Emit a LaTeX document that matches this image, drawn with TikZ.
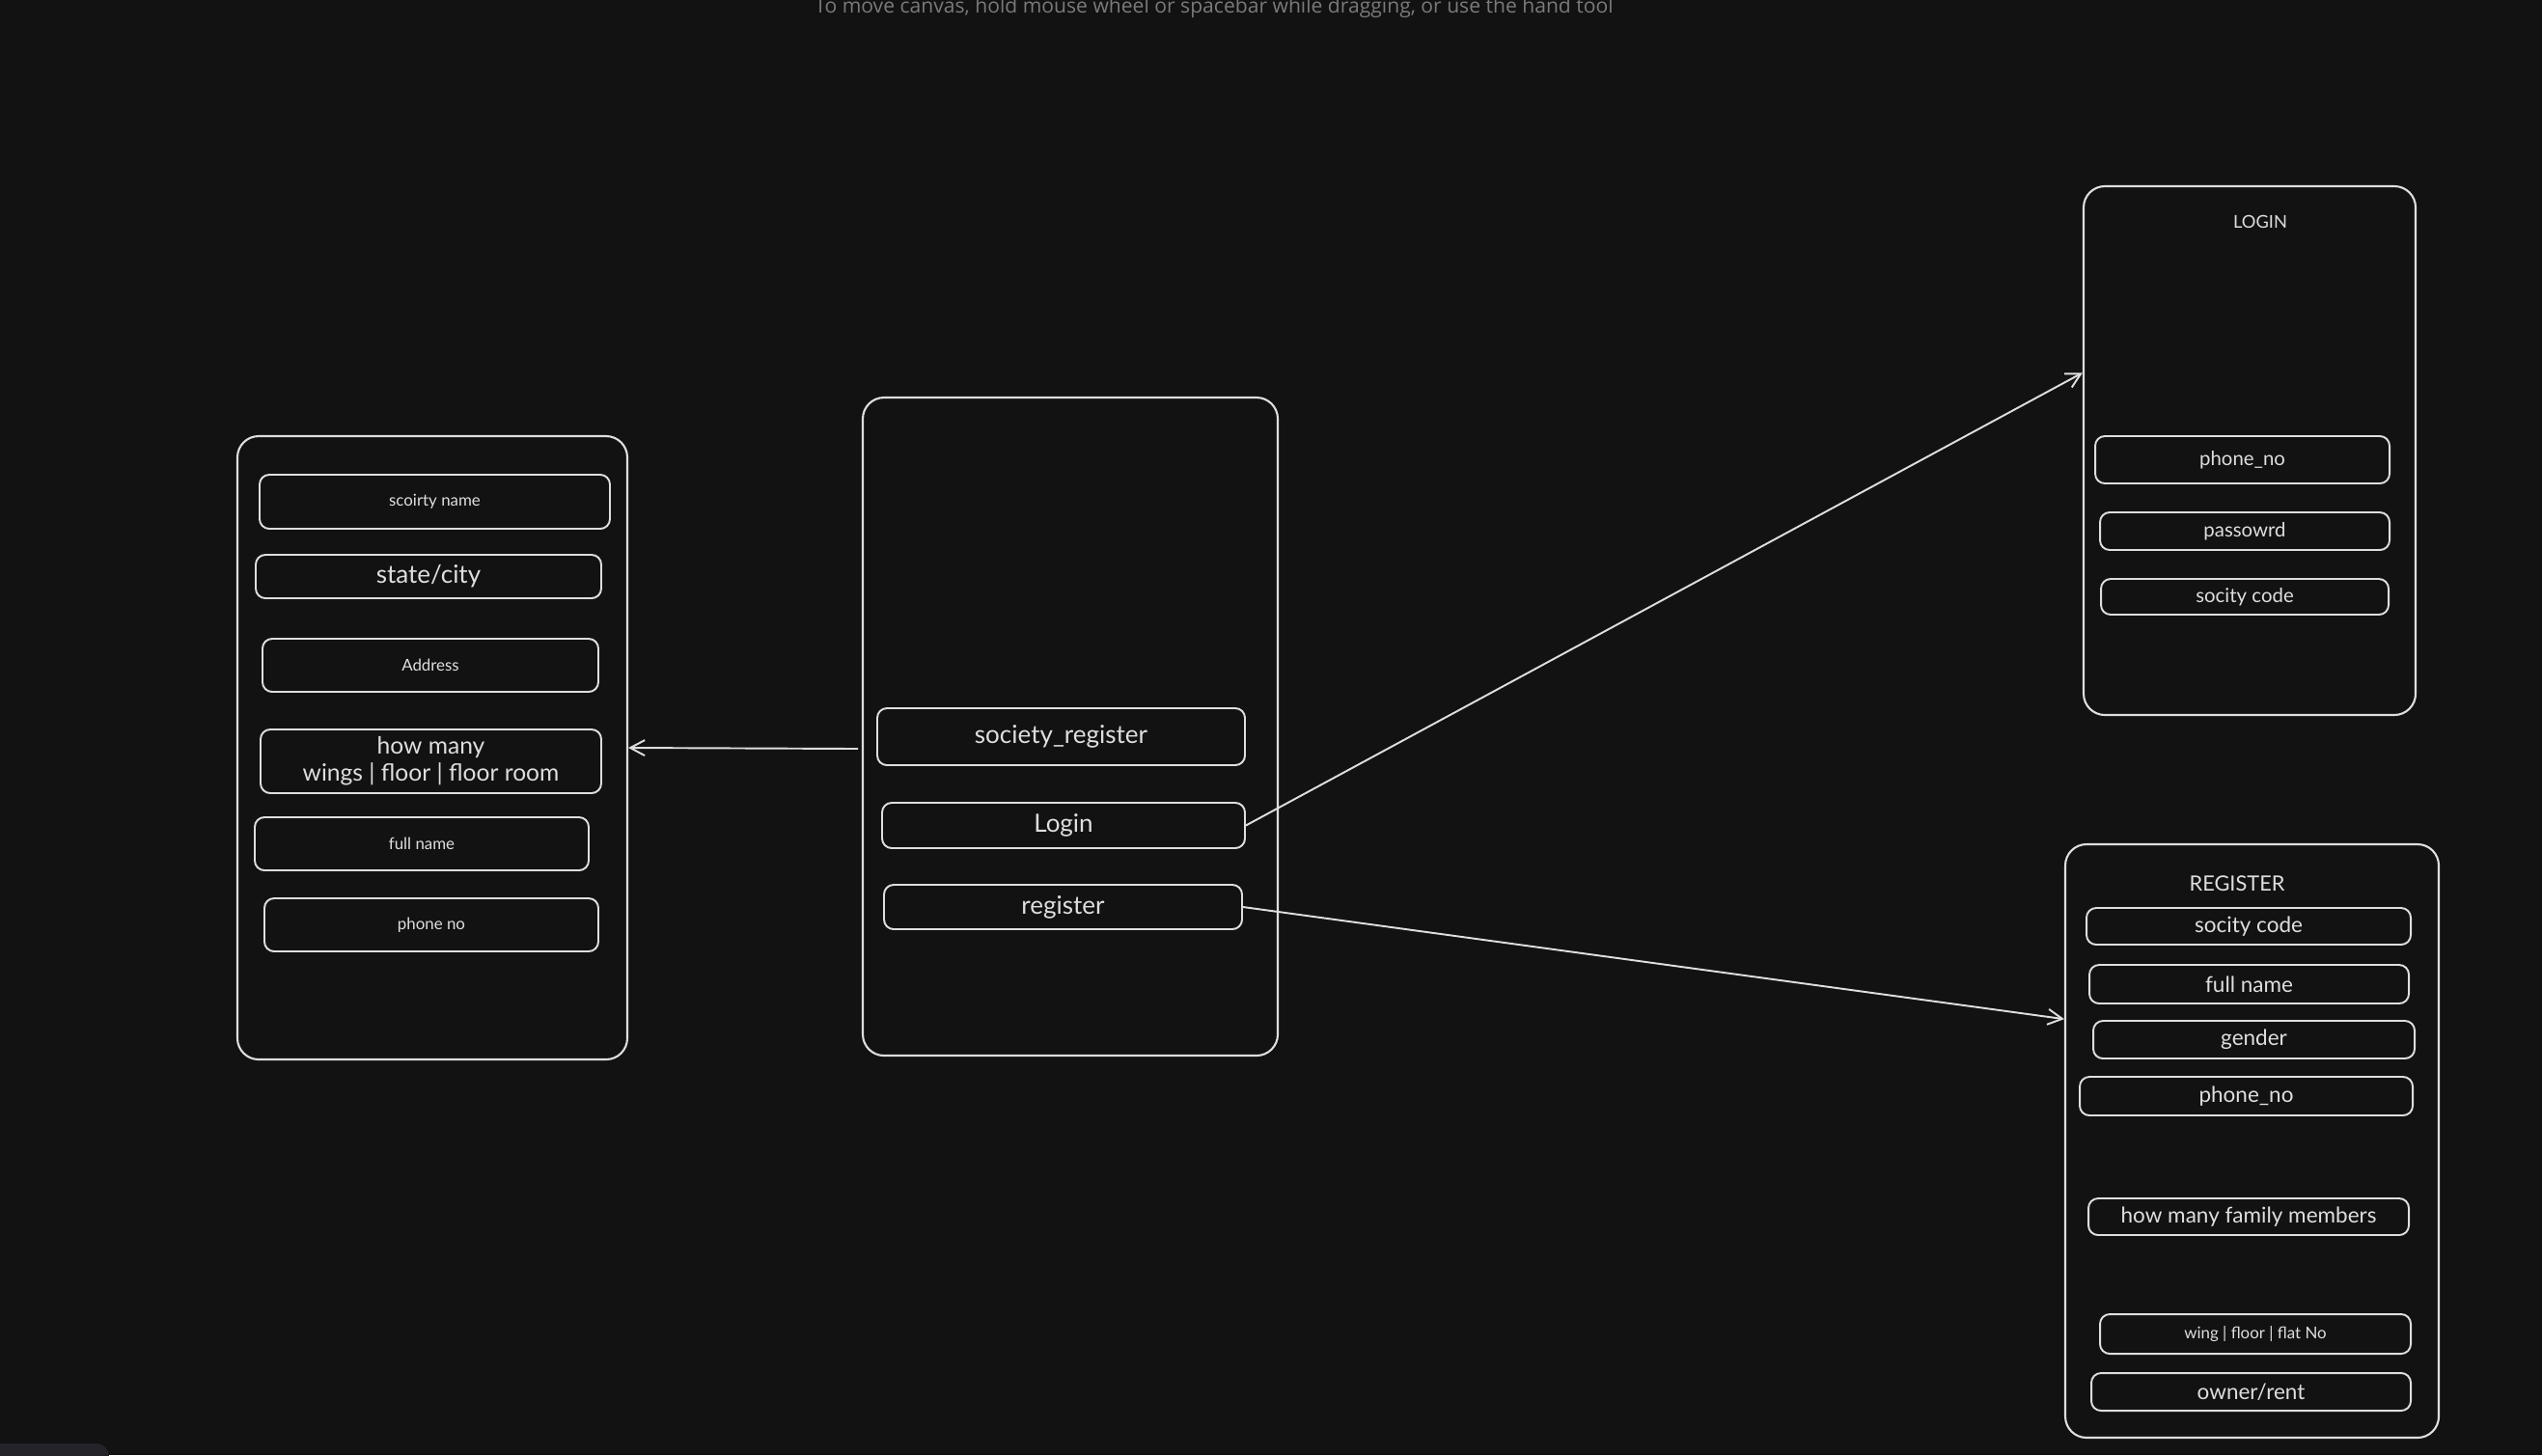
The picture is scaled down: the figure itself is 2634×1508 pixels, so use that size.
\documentclass[tikz,border=0pt]{standalone}
\usepackage{fontspec}
\setmainfont{Lato}
\newfontfamily\hintfont{Open Sans}
\usetikzlibrary{fit,arrows.meta}
\definecolor{bg}{RGB}{18,18,18}
\definecolor{ink}{RGB}{222,222,222}
\definecolor{hint}{RGB}{122,122,122}
\definecolor{tabc}{RGB}{35,35,41}
\tikzset{
  panel/.style={draw=ink, line width=0.6pt, rounded corners=0.22cm, inner sep=0pt},
  field/.style={draw=ink, line width=0.55pt, rounded corners=0.1cm, inner sep=0pt},
  txt/.style={text=ink, inner sep=0pt, align=center},
  lg/.style={txt, font=\fontsize{7.4}{8.2}\selectfont},
  rg/.style={txt, font=\fontsize{6.4}{7.4}\selectfont},
  md/.style={txt, font=\fontsize{5.8}{6.8}\selectfont},
  sm/.style={txt, font=\fontsize{4.8}{5.8}\selectfont},
  conn/.style={draw=ink, line width=0.55pt, -{Straight Barb[length=0.15cm, width=0.16cm]}},
}
\begin{document}
\begin{tikzpicture}[x=0.01cm, y=-0.01cm]
\useasboundingbox (0,0) rectangle (2634,1508);
\fill[bg] (0,0) rectangle (2634,1508);
\fill[tabc, rounded corners=0.13cm] (-30,1496) rectangle (113,1540);
\node[anchor=base, text=hint, inner sep=0pt, font=\hintfont\fontsize{6}{7}\selectfont] (hinttxt) at (1258,13) {To move canvas, hold mouse wheel or spacebar while dragging, or use the hand tool};

% left panel
\node[panel, fit={(246,452) (650,1098)}] (left) {};
\node[field, fit={(269,492) (632,548)}] (sname) {};
\node[sm] (snamet) at (sname) {scoirty name};
\node[field, fit={(265,575) (623,620)}] (scity) {};
\node[lg] (scityt) at (scity) {state/city};
\node[field, fit={(272,662) (620,717)}] (saddr) {};
\node[sm] (saddrt) at (saddr) {Address};
\node[field, fit={(270,756) (623,822)}] (swing) {};
\node[lg, font=\fontsize{7}{8}\selectfont] (swingt) at (swing) {how many\\wings | floor | floor room};
\node[field, fit={(264,847) (610,902)}] (sfull) {};
\node[sm] (sfullt) at (sfull) {full name};
\node[field, fit={(274,931) (620,986)}] (sphone) {};
\node[sm] (sphonet) at (sphone) {phone no};

% center panel
\node[panel, fit={(894,412) (1324,1094)}] (center) {};
\node[field, fit={(909,734) (1290,793)}] (bsoc) {};
\node[lg] (bsoct) at (bsoc) {society\_register};
\node[field, fit={(914,832) (1290,879)}] (blogin) {};
\node[lg] (blogint) at (blogin) {Login};
\node[field, fit={(916,917) (1287,963)}] (breg) {};
\node[lg] (bregt) at (breg) {register};

% login panel
\node[panel, fit={(2159,193) (2503,741)}] (loginp) {};
\node[txt, font=\fontsize{5.2}{6}\selectfont] (logint) at (2342,230) {LOGIN};
\node[field, fit={(2171,452) (2476,501)}] (lphone) {};
\node[md] (lphonet) at (lphone) {phone\_no};
\node[field, fit={(2176,531) (2476,570)}] (lpass) {};
\node[md] (lpasst) at (lpass) {passowrd};
\node[field, fit={(2177,600) (2475,637)}] (lcode) {};
\node[md] (lcodet) at (lcode) {socity code};

% register panel
\node[panel, fit={(2140,875) (2527,1490)}] (regp) {};
\node[txt, font=\fontsize{6.2}{7}\selectfont] (regt) at (2318,916) {REGISTER};
\node[field, fit={(2162,941) (2498,979)}] (rcode) {};
\node[rg] (rcodet) at (rcode) {socity code};
\node[field, fit={(2165,1000) (2496,1040)}] (rfull) {};
\node[rg] (rfullt) at (rfull) {full name};
\node[field, fit={(2169,1058) (2502,1097)}] (rgender) {};
\node[rg] (rgendert) at (rgender) {gender};
\node[field, fit={(2155,1116) (2500,1156)}] (rphone) {};
\node[rg] (rphonet) at (rphone) {phone\_no};
\node[field, fit={(2164,1242) (2496,1280)}] (rfam) {};
\node[rg] (rfamt) at (rfam) {how many family members};
\node[field, fit={(2176,1362) (2498,1403)}] (rwing) {};
\node[sm] (rwingt) at (rwing) {wing | floor | flat No};
\node[field, fit={(2167,1423) (2498,1462)}] (rown) {};
\node[rg] (rownt) at (rown) {owner/rent};

% connectors
\coordinate (a1s) at (889,776);
\draw[conn] (a1s) -- (left.east);
\draw[conn] (blogin.east) -- (loginp.155);
\draw[conn] (breg.east) -- (regp.147);
\end{tikzpicture}
\end{document}
